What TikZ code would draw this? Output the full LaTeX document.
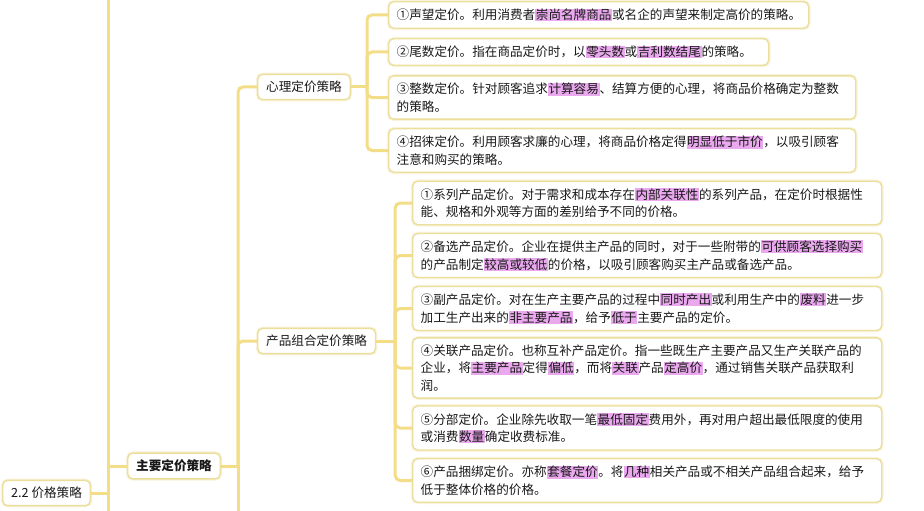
\documentclass[tikz,border=0pt]{standalone}
\usepackage{fontspec}
\setmainfont{Noto Sans CJK SC}
\usetikzlibrary{positioning}
\definecolor{branchgold}{RGB}{243, 221, 135}
\definecolor{boxline}   {RGB}{236, 222, 155}
\definecolor{hlpink}    {RGB}{234, 168, 238}
\definecolor{inkgray}   {RGB}{25,  25,  25}
\newcommand\hlt[1]{{\setlength\fboxsep{0.6pt}\colorbox{hlpink}{#1}}}

\begin{document}
\begin{tikzpicture}[
  x=1pt, y=-1pt,
  branch/.style={branchgold, line width=3pt, rounded corners=5pt},
  topic/.style={draw=boxline, line width=1.4pt, fill=white,
    preaction={draw=boxline!35, line width=3.6pt},
    rounded corners=5pt, inner xsep=8.5pt, inner ysep=6.8pt,
    text=inkgray, font=\fontsize{12.6}{17.5}\selectfont, anchor=west},
  leaf/.style={topic, align=left, inner xsep=8pt},
]
\useasboundingbox (0,0) rectangle (924,511);

%% ─── 座標系 ───────────────────────────────────────
%%  1 単位 = 1 px, y は下向き
%%  幹線 x = 108 / 238 / 367 / 395

% ── 幹線の端点 ───────────────────────────────────
\coordinate (roottop) at (108,0);
\coordinate (rootbot) at (108,511);
\coordinate (mainbot) at (238,511);

% ── 中心ノード ───────────────────────────────────
\node[topic] (root) at (2,493) {2.2 价格策略};
\node[topic, font=\fontsize{12.6}{17.5}\selectfont\bfseries]
  (main) at (127,466) {主要定价策略};
\node[topic] (psy) at (257,87)  {心理定价策略};
\node[topic] (grp) at (257,341) {产品组合定价策略};

% ── 心理定价策略の葉 ─────────────────────────────
\node[leaf, text width=404pt] (p1) at (388,15)
  {①声望定价。利用消费者\hlt{崇尚名牌商品}或名企的声望来制定高价的策略。};
\node[leaf, text width=364pt] (p2) at (388,52)
  {②尾数定价。指在商品定价时，以\hlt{零头数}或\hlt{吉利数结尾}的策略。};
\node[leaf, text width=451pt] (p3) at (388,97.5)
  {③整数定价。针对顾客追求\hlt{计算容易}、结算方便的心理，将商品价格确定为整数\\
   的策略。};
\node[leaf, text width=451pt] (p4) at (388,150.5)
  {④招徕定价。利用顾客求廉的心理，将商品价格定得\hlt{明显低于市价}，以吸引顾客\\
   注意和购买的策略。};

% ── 产品组合定价策略の葉 ─────────────────────────
\node[leaf, text width=453pt] (g1) at (412,203)
  {①系列产品定价。对于需求和成本存在\hlt{内部关联性}的系列产品，在定价时根据性\\
   能、规格和外观等方面的差别给予不同的价格。};
\node[leaf, text width=453pt] (g2) at (412,255.5)
  {②备选产品定价。企业在提供主产品的同时，对于一些附带的\hlt{可供顾客选择购买}\\
   的产品制定\hlt{较高或较低}的价格，以吸引顾客购买主产品或备选产品。};
\node[leaf, text width=453pt] (g3) at (412,308.5)
  {③副产品定价。对在生产主要产品的过程中\hlt{同时产出}或利用生产中的\hlt{废料}进一步\\
   加工生产出来的\hlt{非主要产品}，给予\hlt{低于}主要产品的定价。};
\node[leaf, text width=453pt] (g4) at (412,368)
  {④关联产品定价。也称互补产品定价。指一些既生产主要产品又生产关联产品的\\
   企业，将\hlt{主要产品}定得\hlt{偏低}，而将\hlt{关联}产品\hlt{定高价}，通过销售关联产品获取利\\
   润。};
\node[leaf, text width=453pt] (g5) at (412,428)
  {⑤分部定价。企业除先收取一笔\hlt{最低固定}费用外，再对用户超出最低限度的使用\\
   或消费\hlt{数量}确定收费标准。};
\node[leaf, text width=453pt] (g6) at (412,480.5)
  {⑥产品捆绑定价。亦称\hlt{套餐定价}。将\hlt{几种}相关产品或不相关产品组合起来，给予\\
   低于整体价格的价格。};

% ════════════════════════════════════════════════
%  枝
% ════════════════════════════════════════════════

% ── 2.2 价格策略 → 主要定价策略 ──────────────────
\draw[branch] (roottop) -- (rootbot);
\draw[branch] (root.east) -- (root.east -| roottop);
\draw[branch] (roottop |- main.west) -- (main.west);

% ── 主要定价策略 → 下位 ──────────────────────────
\draw[branch] (main.east) -- (main.east -| mainbot) coordinate (mainj);
\draw[branch] (mainj) -- (mainbot);
\draw[branch] (mainj) |- (psy.west);
\draw[branch] (mainj) |- (grp.west);

% ── 心理定价策略 → 葉 ────────────────────────────
\draw[branch] (psy.east) -- ++(16,0) coordinate (psyj);
\foreach \leafname in {p1,p2,p3,p4}
  \draw[branch] (psyj) |- (\leafname.west);

% ── 产品组合定价策略 → 葉 ────────────────────────
\draw[branch] (grp.east) -- ++(19,0) coordinate (grpj);
\foreach \leafname in {g1,g2,g3,g4,g5,g6}
  \draw[branch] (grpj) |- (\leafname.west);

\end{tikzpicture}
\end{document}
